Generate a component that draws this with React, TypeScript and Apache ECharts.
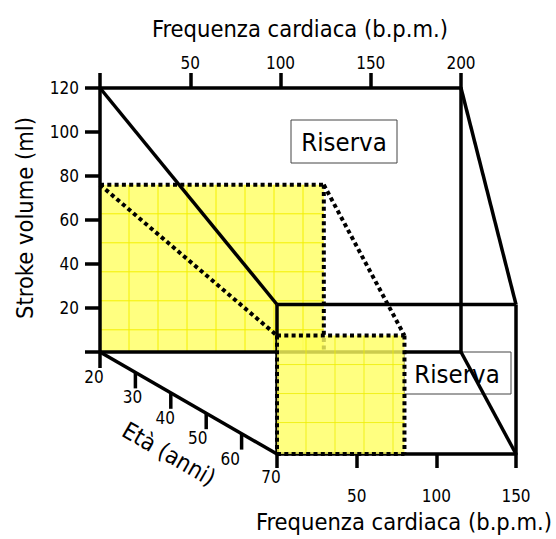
import React, { useEffect, useRef } from 'react';
import * as echarts from 'echarts';

// ---- data ----
const ageTicks = [20, 30, 40, 50, 60, 70];
const maxHr = [200, 150]; // max heart rate at age 20, age 70
const maxSv = [120, 77]; // max stroke volume at age 20, age 70
const usedHr = [124, 80]; // used heart rate (yellow) at age 20, age 70
const usedSv = [76, 61]; // used stroke volume (yellow) at age 20, age 70
const hrTickStep = 50;
const svTickStep = 20;
const svAxisMax = 120;
const reserveText = 'Riserva';
const hrTitle = 'Frequenza cardiaca (b.p.m.)';
const svTitle = 'Stroke volume (ml)';
const ageTitle = 'Età (anni)';

const FONT = '"DejaVu Sans Condensed", "DejaVu Sans", sans-serif';
const STEP = 29;
const TICK_FS = 17;
const TITLE_FS = 23.5;
const LW = 3.5;

function yellowItem(allDotted: boolean, fill: string, grid: string, alpha: number) {
  return (params: any, api: any) => {
    const o = api.coord([0, 0]);
    const c = api.coord([api.value(0), api.value(1)]);
    const x = o[0], y = c[1], w = c[0] - o[0], h = o[1] - c[1];
    const children: any[] = [
      { type: 'rect', shape: { x, y, width: w, height: h }, style: { fill, opacity: alpha } },
    ];
    for (let gx = x + STEP; gx < x + w - 3; gx += STEP)
      children.push({ type: 'line', shape: { x1: gx, y1: y, x2: gx, y2: y + h }, style: { stroke: grid, lineWidth: 1, opacity: alpha } });
    for (let gy = y + STEP; gy < y + h - 3; gy += STEP)
      children.push({ type: 'line', shape: { x1: x, y1: gy, x2: x + w, y2: gy }, style: { stroke: grid, lineWidth: 1, opacity: alpha } });
    const dot = { stroke: '#000', lineWidth: 4, lineDash: [4, 3.3], fill: null };
    children.push({ type: 'line', shape: { x1: x, y1: y, x2: x + w, y2: y }, style: dot });
    children.push({ type: 'line', shape: { x1: x + w, y1: y, x2: x + w, y2: y + h }, style: dot });
    if (allDotted) {
      children.push({ type: 'line', shape: { x1: x, y1: y, x2: x, y2: y + h }, style: dot });
      children.push({ type: 'line', shape: { x1: x, y1: y + h, x2: x + w, y2: y + h }, style: dot });
    }
    return { type: 'group', children };
  };
}

const axisCommon = (len: number, margin: number) => ({
  type: 'value' as const,
  splitLine: { show: false },
  axisLine: { show: true, onZero: false, lineStyle: { color: '#000', width: LW } },
  axisTick: { show: true, length: len, lineStyle: { color: '#000', width: LW } },
  axisLabel: {
    margin,
    color: '#000',
    fontSize: TICK_FS,
    fontFamily: FONT,
    formatter: (v: number) => (v === 0 ? '' : String(v)),
  },
  z: 5,
});

export default function App() {
  const ref = useRef<HTMLDivElement>(null);
  useEffect(() => {
    if (!ref.current) return;
    const chart = echarts.init(ref.current, undefined, { renderer: 'svg' });
    chart.setOption({
      animation: false,
      backgroundColor: '#fff',
      grid: [
        { left: 100, top: 88, width: 361, height: 264 },
        { left: 277, top: 221, width: 239, height: 233 },
      ],
      xAxis: [
        { ...axisCommon(15, 17), gridIndex: 0, position: 'top', min: 0, max: maxHr[0], interval: hrTickStep },
        { ...axisCommon(14, 33), gridIndex: 1, position: 'bottom', min: 0, max: maxHr[1], interval: hrTickStep },
      ],
      yAxis: [
        { ...axisCommon(15, 21), gridIndex: 0, position: 'left', min: 0, max: svAxisMax, interval: svTickStep },
        { type: 'value', gridIndex: 1, min: 0, max: svAxisMax, show: false },
      ],
      series: [
        {
          type: 'custom', xAxisIndex: 0, yAxisIndex: 0, z: 1,
          data: [[usedHr[0], usedSv[0]]],
          renderItem: yellowItem(false, '#ffff80', '#f4f000', 1),
        },
        {
          type: 'custom', xAxisIndex: 1, yAxisIndex: 1, z: 20,
          data: [[usedHr[1], usedSv[1]]],
          renderItem: yellowItem(true, '#ffff60', '#eeee00', 0.8),
        },
      ],
    });

    const B = (hr: number, sv: number) => chart.convertToPixel({ gridIndex: 0 }, [hr, sv]) as number[];
    const F = (hr: number, sv: number) => chart.convertToPixel({ gridIndex: 1 }, [hr, sv]) as number[];
    const solid = { stroke: '#000', lineWidth: LW };
    const dotted = { stroke: '#000', lineWidth: 4, lineDash: [4, 3.3] };
    const line = (a: number[], b: number[], style: any, z: number) => ({
      type: 'line', z, shape: { x1: a[0], y1: a[1], x2: b[0], y2: b[1] }, style,
    });
    const txt = (x: number, y: number, text: string, fs: number, z = 12, rotation = 0) => ({
      type: 'text', z, x, y, rotation,
      style: { text, fontSize: fs, fontFamily: FONT, fill: '#000', align: 'center', verticalAlign: 'middle' },
    });
    const g: any[] = [];
    // back plane
    g.push(line(B(maxHr[0], svAxisMax), B(maxHr[0], 0), solid, 10));
    g.push(line(B(0, 0), B(maxHr[0], 0), solid, 10));
    // connecting edges
    g.push(line(B(0, maxSv[0]), F(0, maxSv[1]), solid, 10));
    g.push(line(B(maxHr[0], maxSv[0]), F(maxHr[1], maxSv[1]), solid, 10));
    g.push(line(B(maxHr[0], 0), F(maxHr[1], 0), solid, 10));
    // front box
    g.push(line(F(0, maxSv[1]), F(maxHr[1], maxSv[1]), solid, 10));
    g.push(line(F(0, maxSv[1]), F(0, 0), solid, 10));
    g.push(line(F(maxHr[1], maxSv[1]), F(maxHr[1], 0), solid, 10));
    // age axis
    const a0 = B(0, 0), a1 = F(0, 0);
    g.push(line(a0, a1, solid, 10));
    const aMin = ageTicks[0], aMax = ageTicks[ageTicks.length - 1];
    ageTicks.forEach((age, i) => {
      const t = (age - aMin) / (aMax - aMin);
      const px = a0[0] + t * (a1[0] - a0[0]);
      const py = a0[1] + t * (a1[1] - a0[1]);
      if (i < ageTicks.length - 1) g.push(line([px, py], [px, py + 16], solid, 10));
      const end = i === 0 || i === ageTicks.length - 1;
      const lx = end ? px - 6 : px - 0.08 * (px - a0[0]);
      const ly = py + (i === ageTicks.length - 1 ? 14 : 16) + 9;
      g.push(txt(lx, ly, String(age), TICK_FS));
    });
    const ang = Math.atan2(a1[1] - a0[1], a1[0] - a0[0]);
    g.push(txt(169, 454, ageTitle, TITLE_FS, 12, -ang));
    // dotted projections of the used region
    g.push(line(B(0, usedSv[0]), F(0, usedSv[1]), dotted, 30));
    g.push(line(B(usedHr[0], usedSv[0]), F(usedHr[1], usedSv[1]), dotted, 30));
    // reserve boxes
    g.push({ type: 'rect', z: 8, shape: { x: 291, y: 120, width: 106, height: 43 }, style: { fill: '#fff', stroke: '#444', lineWidth: 1 } });
    g.push(txt(344, 142, reserveText, 25.5, 9));
    g.push({ type: 'rect', z: 8, shape: { x: 404, y: 352, width: 107, height: 42 }, style: { fill: 'none', stroke: '#444', lineWidth: 1 } });
    g.push(txt(457, 374, reserveText, 25.5, 9));
    // titles
    g.push(txt(300, 29, hrTitle, TITLE_FS));
    g.push(txt(404, 522, hrTitle, TITLE_FS));
    g.push(txt(25, 218, svTitle, TITLE_FS, 12, Math.PI / 2));

    chart.setOption({ graphic: g });
    return () => chart.dispose();
  }, []);
  return <div ref={ref} style={{ position: 'fixed', left: 0, top: 0, width: 556, height: 539 }} />;
}
